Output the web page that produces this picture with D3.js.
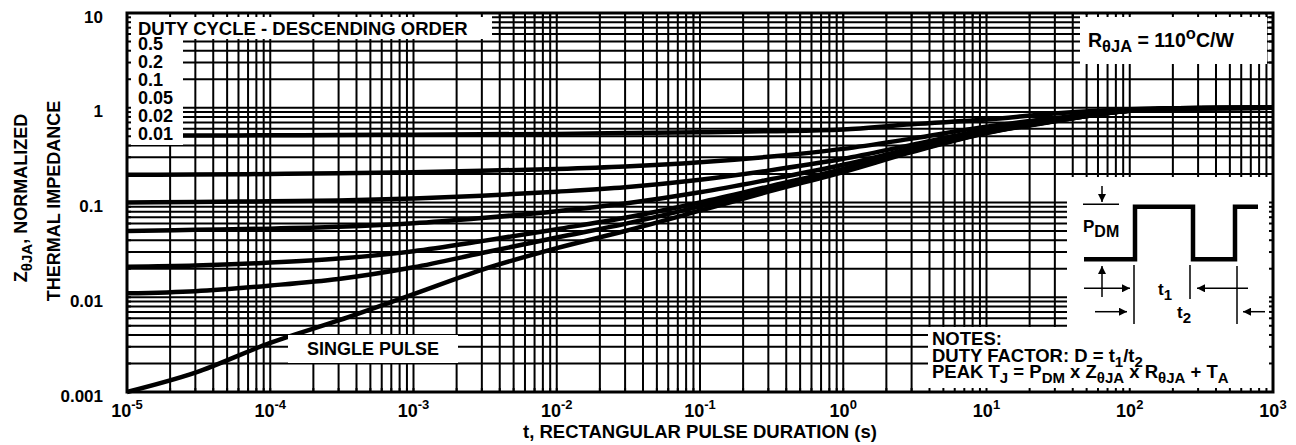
<!DOCTYPE html>
<style>
  body { margin: 0; background: #fff; }
  svg { font-family: "Liberation Sans", Arial, sans-serif; font-weight: bold; }
</style>
<svg width="1296" height="445"></svg>
<script src="https://d3js.org/d3.v7.min.js"></script>
<script>

var pulseTimes = [1e-5, 3e-5, 1e-4, 3e-4, 1e-3, 3e-3, 1e-2, 3e-2, 1e-1, 3e-1, 1, 3, 10, 30, 100, 300, 1000];

// normalized thermal impedance, one list per duty cycle
var duty50 = [0.51, 0.51, 0.512, 0.515, 0.52, 0.525, 0.53, 0.54, 0.55, 0.565, 0.59, 0.67, 0.75, 0.87, 0.965, 0.995, 1.0];
var duty20 = [0.196, 0.197, 0.2, 0.204, 0.209, 0.216, 0.226, 0.24, 0.266, 0.304, 0.368, 0.472, 0.632, 0.776, 0.944, 0.992, 1.0];
var duty10 = [0.1, 0.101, 0.103, 0.105, 0.11, 0.118, 0.13, 0.145, 0.174, 0.217, 0.289, 0.406, 0.586, 0.748, 0.937, 0.991, 1.0];
var duty05 = [0.05, 0.0515, 0.053, 0.0554, 0.0603, 0.0685, 0.081, 0.0975, 0.128, 0.174, 0.25, 0.373, 0.563, 0.734, 0.934, 0.99, 1.0];
var duty02 = [0.021, 0.0216, 0.0232, 0.0256, 0.0306, 0.0391, 0.0523, 0.069, 0.1, 0.147, 0.226, 0.353, 0.549, 0.726, 0.931, 0.99, 1.0];
var duty01 = [0.011, 0.0116, 0.0133, 0.0156, 0.0207, 0.0293, 0.0427, 0.0595, 0.091, 0.139, 0.218, 0.347, 0.545, 0.723, 0.93, 0.99, 1.0];
var singlePulse = [0.001, 0.0016, 0.0033, 0.0057, 0.0108, 0.0195, 0.033, 0.05, 0.082, 0.13, 0.21, 0.34, 0.54, 0.72, 0.93, 0.99, 1.0];

var dutyLabels = ["0.5", "0.2", "0.1", "0.05", "0.02", "0.01"];
var xExponents = ["-5", "-4", "-3", "-2", "-1", "0", "1", "2", "3"];
var yTickValues = [0.001, 0.01, 0.1, 1, 10];
var yTickLabels = ["0.001", "0.01", "0.1", "1", "10"];

var svg = d3.select("svg");

var plotLeft = 127, plotRight = 1273, plotTop = 13, plotBottom = 392;

var x = d3.scaleLog().domain([1e-5, 1e3]).range([plotLeft, plotRight]);
var y = d3.scaleLog().domain([0.001, 10]).range([plotBottom, plotTop]);

// text with sub/superscript pieces: [text, "sub"|"sup"|""]
function rich(t, parts, size, small) {
  var shift = 0;
  parts.forEach(function(p) {
    var off = p[1] == "sub" ? 5 : (p[1] == "sup" ? -8 : 0);
    t.append("tspan")
      .attr("dy", off - shift)
      .style("font-size", (p[1] ? small : size) + "px")
      .text(p[0]);
    shift = off;
  });
  return t;
}

// grid
var grid = svg.append("g").attr("stroke", "#000").attr("stroke-width", 2);
grid.selectAll(".vx")
  .data(x.ticks())
  .enter().append("line")
    .attr("x1", function(d) { return x(d); })
    .attr("x2", function(d) { return x(d); })
    .attr("y1", plotTop).attr("y2", plotBottom);
grid.selectAll(".hy")
  .data(y.ticks())
  .enter().append("line")
    .attr("y1", function(d) { return y(d); })
    .attr("y2", function(d) { return y(d); })
    .attr("x1", plotLeft).attr("x2", plotRight);

// curves
var series = [duty50, duty20, duty10, duty05, duty02, duty01, singlePulse];
var line = d3.line()
  .x(function(d, i) { return x(pulseTimes[i]); })
  .y(function(d) { return y(d); })
  .curve(d3.curveMonotoneX);

svg.append("g").selectAll("path")
  .data(series)
  .enter().append("path")
    .attr("d", line)
    .attr("fill", "none")
    .attr("stroke", "#000")
    .attr("stroke-width", 4.5)
    .attr("stroke-linejoin", "round");

// white label boxes
var boxes = [
  [128, 14, 364, 25],   // duty cycle title
  [128, 14, 55, 131],   // duty list
  [1080, 15, 187, 49],  // R theta
  [288, 335, 170, 28],  // single pulse
  [1067, 177, 206, 150],// pulse diagram
  [928, 327, 345, 65]   // notes
];
svg.append("g").selectAll("rect")
  .data(boxes)
  .enter().append("rect")
    .attr("x", function(d) { return d[0]; })
    .attr("y", function(d) { return d[1]; })
    .attr("width", function(d) { return d[2]; })
    .attr("height", function(d) { return d[3]; })
    .attr("fill", "#fff");

// frame + inward ticks
var frame = svg.append("g").attr("stroke", "#000");
frame.append("rect")
  .attr("x", plotLeft).attr("y", plotTop)
  .attr("width", plotRight - plotLeft).attr("height", plotBottom - plotTop)
  .attr("fill", "none").attr("stroke-width", 3);
var tl = 4;
x.ticks().forEach(function(d) {
  frame.append("line").attr("x1", x(d)).attr("x2", x(d)).attr("y1", plotTop).attr("y2", plotTop + tl).attr("stroke-width", 2);
  frame.append("line").attr("x1", x(d)).attr("x2", x(d)).attr("y1", plotBottom).attr("y2", plotBottom - tl).attr("stroke-width", 2);
});
y.ticks().forEach(function(d) {
  frame.append("line").attr("y1", y(d)).attr("y2", y(d)).attr("x1", plotLeft).attr("x2", plotLeft + tl).attr("stroke-width", 2);
  frame.append("line").attr("y1", y(d)).attr("y2", y(d)).attr("x1", plotRight).attr("x2", plotRight - tl).attr("stroke-width", 2);
});

// axis labels
svg.append("g").selectAll("text")
  .data(yTickValues)
  .enter().append("text")
    .attr("x", 103)
    .attr("y", function(d) { return y(d) + 9.5; })
    .attr("text-anchor", "end")
    .style("font-size", "17px")
    .text(function(d, i) { return yTickLabels[i]; });

xExponents.forEach(function(e) {
  var t = svg.append("text")
    .attr("x", x(Math.pow(10, +e)))
    .attr("y", 417)
    .attr("text-anchor", "middle");
  rich(t, [["10", ""], [e, "sup"]], 18, 13);
});

svg.append("text")
  .attr("x", (plotLeft + plotRight) / 2)
  .attr("y", 438)
  .attr("text-anchor", "middle")
  .style("font-size", "18.5px")
  .text("t, RECTANGULAR PULSE DURATION (s)");

var yt1 = svg.append("text")
  .attr("transform", "translate(27,198) rotate(-90)")
  .attr("text-anchor", "middle");
rich(yt1, [["Z", ""], ["\u03B8JA", "sub"], [", NORMALIZED", ""]], 18, 15);
svg.append("text")
  .attr("transform", "translate(60,201) rotate(-90)")
  .attr("text-anchor", "middle")
  .style("font-size", "18px")
  .text("THERMAL IMPEDANCE");

// legend
svg.append("text")
  .attr("x", 138).attr("y", 35)
  .style("font-size", "18.5px")
  .text("DUTY CYCLE - DESCENDING ORDER");
svg.append("g").selectAll("text")
  .data(dutyLabels)
  .enter().append("text")
    .attr("x", 138)
    .attr("y", function(d, i) { return 50 + 18 * i; })
    .style("font-size", "18px")
    .text(function(d) { return d; });

var rt = svg.append("text").attr("x", 1088).attr("y", 47);
rich(rt, [["R", ""], ["\u03B8JA", "sub"], [" = 110", ""], ["o", "sup"], ["C/W", ""]], 19.5, 16.5);

svg.append("text")
  .attr("x", 373).attr("y", 355)
  .attr("text-anchor", "middle")
  .style("font-size", "18px")
  .text("SINGLE PULSE");

// notes
svg.append("text").attr("x", 932).attr("y", 345).style("font-size", "18.5px").text("NOTES:");
rich(svg.append("text").attr("x", 932).attr("y", 361.5),
  [["DUTY FACTOR: D = t", ""], ["1", "sub"], ["/t", ""], ["2", "sub"]], 18.5, 15);
rich(svg.append("text").attr("x", 932).attr("y", 378),
  [["PEAK T", ""], ["J", "sub"], [" = P", ""], ["DM", "sub"], [" x Z", ""], ["\u03B8JA", "sub"],
   [" x R", ""], ["\u03B8JA", "sub"], [" + T", ""], ["A", "sub"]], 18.5, 15);

// pulse diagram
var defs = svg.append("defs");
defs.append("marker")
  .attr("id", "ah")
  .attr("viewBox", "0 0 10 10")
  .attr("refX", 10).attr("refY", 5)
  .attr("markerWidth", 10).attr("markerHeight", 8)
  .attr("markerUnits", "userSpaceOnUse")
  .attr("orient", "auto")
  .append("path").attr("d", "M0,0L10,5L0,10Z").attr("fill", "#000");

var dg = svg.append("g").attr("stroke", "#000").attr("fill", "none");
dg.append("path")
  .attr("d", "M1084,259.3H1135V206.7H1193V259.3H1235V206.7H1258")
  .attr("stroke-width", 4.5);
var thin = [
  [1083, 204.3, 1119, 204.3],
  [1134, 265, 1134, 324],
  [1190, 265, 1190, 299],
  [1237, 266, 1237, 324]
];
thin.forEach(function(l) {
  dg.append("line").attr("x1", l[0]).attr("y1", l[1]).attr("x2", l[2]).attr("y2", l[3]).attr("stroke-width", 1.5);
});
var arrows = [
  [1102, 186, 1102, 202],
  [1102, 297, 1102, 266],
  [1084, 288.3, 1130, 288.3],
  [1248, 288.3, 1197, 288.3],
  [1095, 311.7, 1127, 311.7],
  [1265, 311.7, 1243, 311.7]
];
arrows.forEach(function(l) {
  dg.append("line").attr("x1", l[0]).attr("y1", l[1]).attr("x2", l[2]).attr("y2", l[3])
    .attr("stroke-width", 1.5).attr("marker-end", "url(#ah)");
});

rich(svg.append("text").attr("x", 1083).attr("y", 232), [["P", ""], ["DM", "sub"]], 17, 16);
rich(svg.append("text").attr("x", 1158).attr("y", 295), [["t", ""], ["1", "sub"]], 17, 15);
rich(svg.append("text").attr("x", 1177).attr("y", 318), [["t", ""], ["2", "sub"]], 17, 15);

</script>
